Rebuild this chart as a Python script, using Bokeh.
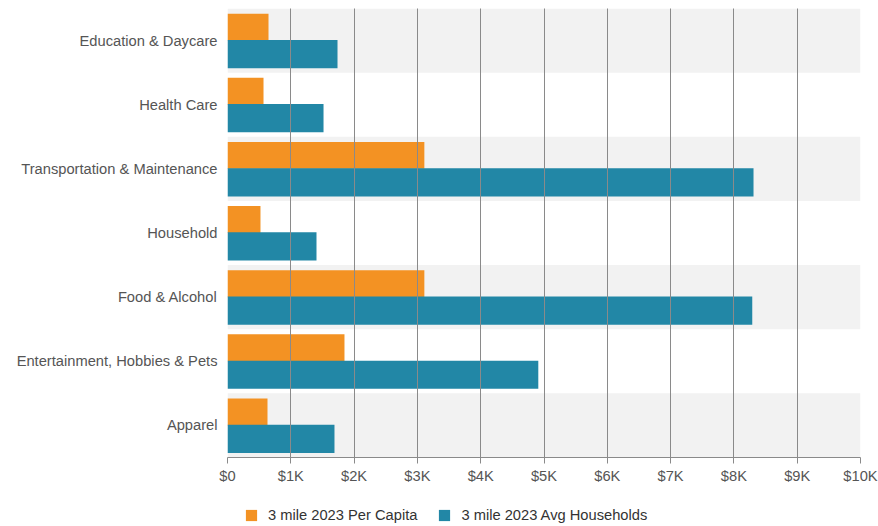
from bokeh.plotting import figure
from bokeh.layouts import column
from bokeh.models import FactorRange, Range1d, FixedTicker, Legend, LegendItem
from bokeh.transform import dodge
from bokeh.embed import file_html
from bokeh.resources import INLINE

categories = ["Education & Daycare", "Health Care", "Transportation & Maintenance",
              "Household", "Food & Alcohol", "Entertainment, Hobbies & Pets", "Apparel"]
per_capita = [648, 569, 3110, 521, 3110, 1848, 632]
avg_households = [1738, 1517, 8310, 1406, 8290, 4910, 1690]
series_names = ["3 mile 2023 Per Capita", "3 mile 2023 Avg Households"]
tick_values = [0, 1000, 2000, 3000, 4000, 5000, 6000, 7000, 8000, 9000, 10000]
tick_labels = ["$0", "$1K", "$2K", "$3K", "$4K", "$5K", "$6K", "$7K", "$8K", "$9K", "$10K"]
banded = [categories[i] for i in range(0, len(categories), 2)]

ORANGE = "#F39223"
BLUE = "#2287A6"
FONT = "Liberation Sans"
FS = "14.7px"

p = figure(y_range=FactorRange(factors=categories[::-1], range_padding=0),
           x_range=Range1d(tick_values[0], tick_values[-1]),
           frame_width=633, frame_height=449,
           min_border_left=227, min_border_right=18, min_border_top=8, min_border_bottom=40,
           output_backend="svg", toolbar_location=None)

p.hbar(y=banded, left=tick_values[0], right=tick_values[-1], height=1.0,
       fill_color="#F2F2F2", line_color=None)

data = dict(cat=categories, pc=per_capita, ah=avg_households)
p.hbar(y=dodge("cat", 0.21, range=p.y_range), left=0, right="pc", height=0.42,
       fill_color=ORANGE, line_color=None, source=data)
p.hbar(y=dodge("cat", -0.21, range=p.y_range), left=0, right="ah", height=0.44,
       fill_color=BLUE, line_color=None, source=data)

p.outline_line_color = None
p.ygrid.grid_line_color = None
p.xgrid.grid_line_color = "#8A8A8A"
p.xgrid.grid_line_width = 1
p.xgrid.level = "overlay"
p.xgrid.ticker = FixedTicker(ticks=tick_values)

p.xaxis.ticker = FixedTicker(ticks=tick_values)
p.xaxis.major_label_overrides = {v: l for v, l in zip(tick_values, tick_labels)}
p.xaxis.axis_line_color = "#8A8A8A"
p.xaxis.major_tick_line_color = "#8A8A8A"
p.xaxis.major_tick_in = 0
p.xaxis.major_tick_out = 6
p.xaxis.minor_tick_line_color = None
p.xaxis.major_label_text_font = FONT
p.xaxis.major_label_text_font_size = FS
p.xaxis.major_label_text_color = "#555555"
p.xaxis.major_label_standoff = 4

p.yaxis.axis_line_color = None
p.yaxis.major_tick_line_color = None
p.yaxis.major_tick_out = 0
p.yaxis.major_tick_in = 0
p.yaxis.minor_tick_line_color = None
p.yaxis.major_label_text_font = FONT
p.yaxis.major_label_text_font_size = FS
p.yaxis.major_label_text_color = "#555555"
p.yaxis.major_label_standoff = 10

# legend strip below the chart (placeholder renderers sit outside the visible range)
lg = figure(width=878, height=29, x_range=Range1d(0, 1), y_range=Range1d(0, 1),
            min_border_left=0, min_border_right=0, min_border_top=0, min_border_bottom=0,
            x_axis_location=None, y_axis_location=None,
            output_backend="svg", toolbar_location=None)
lg.outline_line_color = None
lg.xgrid.grid_line_color = None
lg.ygrid.grid_line_color = None
d1 = lg.hbar(y=[-5], left=[0], right=[1], height=0.5, fill_color=ORANGE, line_color=None)
d2 = lg.hbar(y=[-5], left=[0], right=[1], height=0.5, fill_color=BLUE, line_color=None)

legend = Legend(items=[LegendItem(label=series_names[0], renderers=[d1]),
                       LegendItem(label=series_names[1], renderers=[d2])],
                orientation="horizontal", location=(17, 3),
                padding=0, margin=0, spacing=20, label_standoff=10,
                glyph_width=14, glyph_height=14, label_height=14,
                label_text_font=FONT, label_text_font_size=FS,
                label_text_color="#333333",
                border_line_color=None, background_fill_alpha=0)
lg.add_layout(legend, "center")

layout = column(p, lg, spacing=0)
open("out.html", "w").write(file_html(layout, INLINE))
